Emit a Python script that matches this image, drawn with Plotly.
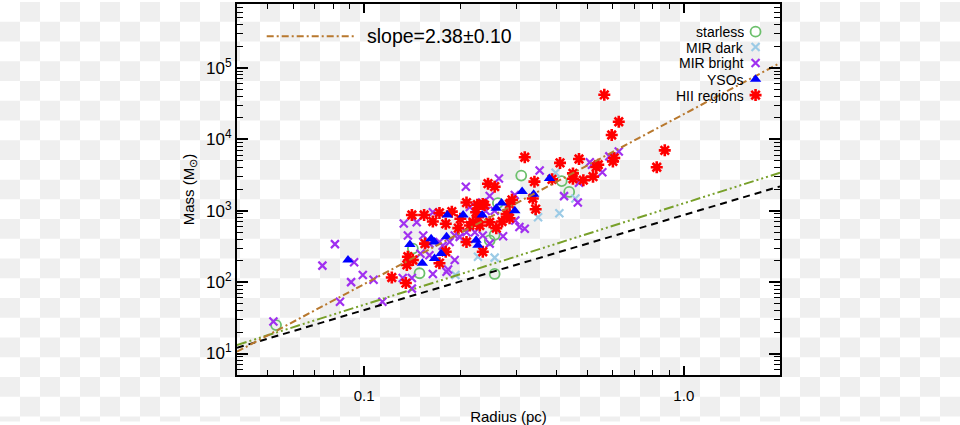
import numpy as np
import plotly.graph_objects as go

# ---------------- data (radius in pc, mass in Msun) ----------------
starless_r = [0.053, 0.31, 0.262, 0.247, 0.256, 0.256, 0.149, 0.415, 0.438, 0.142]
starless_m = [25, 3100, 1280, 385, 460, 130, 133, 2600, 1830, 295]

mirdark_r = [0.35, 0.227, 0.256, 0.193, 0.397, 0.458, 0.408]
mirdark_m = [810, 227, 220, 126, 3400, 1480, 920]

mirbright_r = [0.081, 0.074, 0.093, 0.099, 0.091, 0.107, 0.084, 0.114, 0.052, 0.141,
               0.354, 0.264, 0.208, 0.247, 0.296, 0.234, 0.256, 0.306, 0.318, 0.272,
               0.247, 0.181, 0.164, 0.192, 0.141, 0.132, 0.137, 0.153, 0.164, 0.192,
               0.199, 0.222, 0.235, 0.209, 0.185, 0.176, 0.16, 0.16, 0.146, 0.172,
               0.183, 0.422, 0.466, 0.297, 0.516, 0.626, 0.585, 0.508, 0.556, 0.47,
               0.214, 0.24, 0.15, 0.133]
mirbright_m = [340, 170, 190, 126, 100, 108, 53, 53, 28, 81,
               3660, 2830, 2170, 1610, 1660, 1300, 1000, 590, 560, 440,
               346, 140, 130, 204, 114, 114, 450, 450, 950, 450,
               430, 500, 450, 500, 365, 322, 346, 238, 690, 365,
               150, 1600, 1300, 730, 4400, 6760, 5770, 4760, 3460, 2470,
               1130, 990, 250, 660]

yso_r = [0.089, 0.38, 0.312, 0.339, 0.269, 0.259, 0.296, 0.224, 0.227, 0.152,
         0.166, 0.139, 0.162, 0.181, 0.182, 0.204, 0.234, 0.166, 0.174]
yso_m = [204, 2830, 1850, 1700, 1280, 1080, 1000, 385, 328, 184,
         214, 335, 406, 430, 870, 870, 870, 365, 252]

hii_r = [0.122, 0.135, 0.318, 0.341, 0.387, 0.244, 0.256, 0.337, 0.344, 0.29,
         0.238, 0.209, 0.279, 0.285, 0.27, 0.259, 0.235, 0.209, 0.172, 0.18,
         0.137, 0.136, 0.142, 0.155, 0.141, 0.154, 0.164, 0.172, 0.188, 0.18,
         0.197, 0.214, 0.227, 0.23, 0.219, 0.247, 0.235, 0.226, 0.41, 0.47,
         0.45, 0.45, 0.485, 0.54, 0.285, 0.564, 0.626, 0.595, 0.872, 0.823,
         0.606, 0.60, 0.532, 0.52, 0.224, 0.2]
hii_m = [116, 97, 5600, 2550, 2750, 2390, 2170, 1480, 1050, 1420,
         1200, 1300, 900, 785, 705, 570, 266, 365, 184, 266,
         227, 174, 204, 346, 870, 870, 705, 930, 970, 655,
         570, 620, 810, 620, 690, 690, 1240, 1210, 4670, 5300,
         3330, 2800, 2680, 4400, 1240, 42000, 17600, 11500, 7000, 4060,
         5480, 4900, 4100, 3000, 950, 770]

# power-law relations  M = A * R^p
fit_A, fit_p = 2.25e4, 2.38          # fitted slope
thr1_A, thr1_p = 1270, 1.42          # green dash-dot-dot line
thr2_A, thr2_p = 870, 1.33           # black dashed line

x_range = [0.04, 2.0]
y_range = [5, 7.85e5]

legend_names = ["starless", "MIR dark", "MIR bright", "YSOs", "HII regions"]
slope_label = "slope=2.38\u00b10.10"

# ---------------- figure ----------------
FONT = "Liberation Sans"
W, H = 960, 425
L, R, T, B = 237, 180, 2, 47
pw, ph = W - L - R, H - T - B

fig = go.Figure()

mk = [
    (starless_r, starless_m, dict(symbol="circle-open", size=10, color="#6cc06c", line=dict(width=1.8, color="#6cc06c"))),
    (mirdark_r, mirdark_m, dict(symbol="x-thin-open", size=8, color="#9ccbe6", line=dict(width=2.2, color="#9ccbe6"))),
    (mirbright_r, mirbright_m, dict(symbol="x-thin-open", size=8, color="#a030f0", line=dict(width=2.2, color="#a030f0"))),
    (hii_r, hii_m, dict(symbol="asterisk-open", size=10, color="#ff0000", line=dict(width=2.6, color="#ff0000"))),
    (yso_r, yso_m, dict(symbol="triangle-up", size=10, color="#0000ff", line=dict(width=0))),
]
for r, m, style in mk:
    fig.add_trace(go.Scatter(x=r, y=m, mode="markers", marker=style, showlegend=False, hoverinfo="skip"))

xl = np.array(x_range)
lines = [
    (thr2_A, thr2_p, dict(color="black", width=2, dash="7px,5px")),
    (thr1_A, thr1_p, dict(color="#78a02a", width=2, dash="10px,3px,2px,3px,2px,3px,2px,3px")),
    (fit_A, fit_p, dict(color="#b8782e", width=2, dash="7px,3px,2px,3px")),
]
for A, p, st in lines:
    fig.add_trace(go.Scatter(x=xl, y=A * xl ** p, mode="lines", line=st, showlegend=False, hoverinfo="skip"))

# ---- custom legend (text left of symbol), on an overlay axis in [0,1] ----
leg_y = [0.9255, 0.884, 0.841, 0.797, 0.7545]
leg_x_text = 0.935
leg_x_mark = 0.955
for (r, m, style), name, yy in zip(mk[:3] + [mk[4], mk[3]], legend_names, leg_y):
    fig.add_trace(go.Scatter(x=[leg_x_mark], y=[yy], xaxis="x2", yaxis="y2", mode="markers",
                             marker=style, showlegend=False, hoverinfo="skip"))
    fig.add_annotation(x=leg_x_text, y=yy, xref="paper", yref="paper", text=name, showarrow=False,
                       xanchor="right", yanchor="middle", height=15, borderpad=0,
                       font=dict(family=FONT, size=14, color="black"))

fig.add_trace(go.Scatter(x=[0.0547, 0.219], y=[0.913, 0.913], xaxis="x2", yaxis="y2", mode="lines",
                         line=lines[2][2], showlegend=False, hoverinfo="skip"))
fig.add_annotation(x=0.2376, y=0.913, xref="paper", yref="paper", text=slope_label, showarrow=False,
                   xanchor="left", yanchor="middle", borderpad=0,
                   font=dict(family=FONT, size=19.5, color="black"))

# ---- ticks ----
x_minor = [k * 10.0 ** e for e in range(-2, 1) for k in range(2, 10) if x_range[0] <= k * 10.0 ** e <= x_range[1]]
y_minor = [k * 10.0 ** e for e in range(0, 6) for k in range(2, 10) if y_range[0] <= k * 10.0 ** e <= y_range[1]]

fig.update_xaxes(
    type="log", range=[np.log10(x_range[0]), np.log10(x_range[1])],
    tickvals=[0.1, 1.0], ticktext=["0.1", "1.0"],
    ticks="inside", ticklen=9, tickwidth=1.5, tickcolor="black",
    minor=dict(tickvals=x_minor, ticks="inside", ticklen=5, tickwidth=1.2, tickcolor="black", showgrid=False),
    showline=True, linewidth=2, linecolor="black", mirror="ticks", showgrid=False, zeroline=False,
    ticklabelstandoff=6,
    tickfont=dict(family=FONT, size=15, color="black"),
    title=dict(text="Radius (pc)", font=dict(family=FONT, size=15, color="black"), standoff=8),
)
fig.update_yaxes(
    type="log", range=[np.log10(y_range[0]), np.log10(y_range[1])],
    tickvals=[10, 100, 1e3, 1e4, 1e5],
    ticktext=["10<sup>1</sup>", "10<sup>2</sup>", "10<sup>3</sup>", "10<sup>4</sup>", "10<sup>5</sup>"],
    ticks="inside", ticklen=11, tickwidth=1.5, tickcolor="black",
    minor=dict(tickvals=y_minor, ticks="inside", ticklen=6, tickwidth=1.2, tickcolor="black", showgrid=False),
    showline=True, linewidth=2, linecolor="black", mirror="ticks", showgrid=False, zeroline=False,
    tickfont=dict(family=FONT, size=17, color="black"),
    title=dict(text="Mass (M<sub>\u2299</sub>)", font=dict(family=FONT, size=15, color="black"), standoff=8),
)

# checkerboard backdrop (transparent-image look) as one paper-referenced path
cell = 20
parts = []
for row in range(int(np.ceil(H / cell))):
    for col in range(W // cell):
        if (row + col) % 2 == 1:
            x0 = (col * cell - L) / pw
            x1 = ((col + 1) * cell - L) / pw
            y0 = 1 - (row * cell - T) / ph
            y1 = 1 - (min((row + 1) * cell, H) - T) / ph
            parts.append(f"M{x0:.5f},{y0:.5f}H{x1:.5f}V{y1:.5f}H{x0:.5f}Z")
fig.add_shape(type="path", path="".join(parts), xref="paper", yref="paper",
              fillcolor="#efefef", line=dict(width=0), layer="below")

fig.update_layout(
    width=W, height=H, margin=dict(l=L, r=R, t=T, b=B),
    paper_bgcolor="white", plot_bgcolor="rgba(0,0,0,0)",
    xaxis2=dict(overlaying="x", range=[0, 1], visible=False, fixedrange=True),
    yaxis2=dict(overlaying="y", range=[0, 1], visible=False, fixedrange=True),
    showlegend=False,
)

fig.write_html("out.html")
